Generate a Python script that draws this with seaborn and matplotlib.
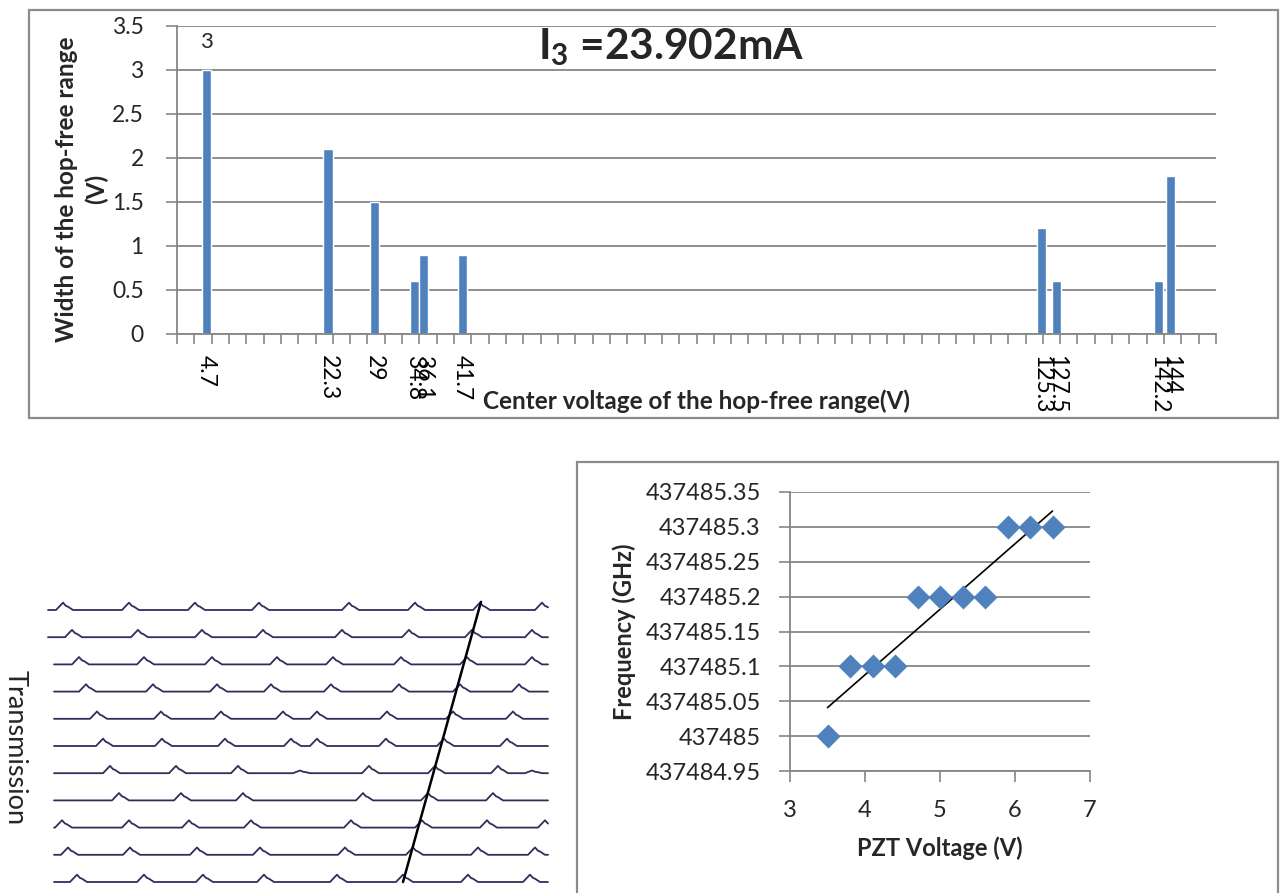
import numpy as np
import pandas as pd
import matplotlib
matplotlib.use("Agg")
import matplotlib.pyplot as plt
import seaborn as sns
from matplotlib.patches import Rectangle

# ---------------- data ----------------
# top chart: hop-free ranges
centers = [4.7, 22.3, 29, 34.8, 36.1, 41.7, 125.3, 127.5, 142.2, 144]
widths = [3, 2.1, 1.5, 0.6, 0.9, 0.9, 1.2, 0.6, 0.6, 1.8]
center_labels = ["4.7", "22.3", "29", "34.8", "36.1", "41.7", "125.3", "127.5", "142.2", "144"]
width_ticks = [0, 0.5, 1, 1.5, 2, 2.5, 3, 3.5]
width_tick_labels = ["0", "0.5", "1", "1.5", "2", "2.5", "3", "3.5"]

# bottom-right: frequency vs PZT voltage
pzt_voltage = [3.5, 3.8, 4.1, 4.4, 4.7, 5.0, 5.3, 5.6, 5.9, 6.2, 6.5]
frequency = [437485.00, 437485.10, 437485.10, 437485.10, 437485.20, 437485.20,
             437485.20, 437485.20, 437485.30, 437485.30, 437485.30]
pzt_ticks = [3, 4, 5, 6, 7]
freq_ticks = [437484.95, 437485.00, 437485.05, 437485.10, 437485.15,
              437485.20, 437485.25, 437485.30, 437485.35]
freq_tick_labels = ["437484.95", "437485", "437485.05", "437485.1", "437485.15",
                    "437485.2", "437485.25", "437485.3", "437485.35"]

# bottom-left: transmission scans (peak positions along the scan, per sweep)
scan_peaks = [
    [63, 129, 195, 259, 349, 415, 480, 542],
    [72, 138, 202, 263, 342, 409, 472, 532],
    [79, 144, 212, 277, 333, 401, 467, 532],
    [86, 153, 217, 271, 331, 399, 460, 519],
    [97, 161, 221, 283, 317, 387, 453, 513],
    [103, 162, 225, 291, 317, 386, 444, 507],
    [110, 176, 238, 369, 435, 498],
    [119, 181, 243, 363, 428, 493],
    [62, 129, 189, 251, 351, 422, 487, 545],
    [68, 130, 197, 260, 345, 413, 478, 535],
    [77, 144, 203, 264, 337, 403, 468, 530],
]
scan_small_peaks = [[], [], [], [], [], [], [300, 532], [], [], [], []]
scan_start = [48, 48, 54, 54, 54, 54, 54, 54, 54, 54, 54]
scan_end = [548] * 11
hop_line_x = [403, 481]
hop_line_scan = [10, -0.3]

# ---------------- style ----------------
sns.set_theme(style="white")
plt.rcParams["font.family"] = ["Lato", "DejaVu Sans"]
plt.rcParams["mathtext.fontset"] = "custom"
plt.rcParams["mathtext.rm"] = "Lato"
plt.rcParams["mathtext.bf"] = "Lato:bold"
plt.rcParams["mathtext.it"] = "Lato:italic"

W, H = 1280, 893
BLUE = "#4F81BD"
GRID = "#868686"
FRAME = "#8c8c8c"


def px_rect(l, t, r, b):
    return [l / W, 1 - b / H, (r - l) / W, (b - t) / H]


fig = plt.figure(figsize=(W / 100, H / 100), dpi=100)
fig.patch.set_facecolor("white")

# frames
fig.patches.append(Rectangle((29 / W, 1 - 418 / H), (1278 - 29) / W, (418 - 10) / H,
                             transform=fig.transFigure, fill=False, edgecolor=FRAME, lw=1.6))
fig.patches.append(Rectangle((577 / W, -0.05), (1278 - 577) / W, 1 - 462 / H + 0.05,
                             transform=fig.transFigure, fill=False, edgecolor=FRAME, lw=1.6))

# ---------------- top chart ----------------
ax1 = fig.add_axes(px_rect(177, 26, 1216, 334))
df_top = pd.DataFrame({"center": centers, "width": widths})
sns.barplot(data=df_top, x="center", y="width", native_scale=True, width=1.0,
            color=BLUE, saturation=1, ax=ax1, errorbar=None)
ax1.set_xlim(0.5, 150.5)
ax1.set_ylim(0, 3.5)
ax1.set_yticks(width_ticks, labels=width_tick_labels)
ax1.set_xticks(centers, labels=center_labels, rotation=270)
ax1.set_xticks(np.arange(0.5, 151, 2.5), minor=True)
ax1.tick_params(axis="x", which="major", length=0, pad=15, labelsize=16.5, colors="black")
ax1.tick_params(axis="x", which="minor", length=7, width=1.2, color=GRID, bottom=True)
ax1.tick_params(axis="y", which="major", length=8, width=1.2, color=GRID, left=True,
                pad=16, labelsize=16.5)
ax1.grid(axis="y", color=GRID, lw=1.3)
ax1.grid(axis="x", visible=False)
ax1.set_axisbelow(True)
for s in ["top", "right"]:
    ax1.spines[s].set_visible(False)
for s in ["left", "bottom"]:
    ax1.spines[s].set_color(GRID)
    ax1.spines[s].set_linewidth(1.3)
ax1.set_ylabel("Width of the hop-free range\n(V)", fontsize=17.5, fontweight="bold",
               linespacing=1.35)
ax1.yaxis.set_label_coords(-0.066, 0.47)
ax1.set_xlabel("Center voltage of the hop-free range(V)", fontsize=17.5, fontweight="bold")
ax1.xaxis.set_label_coords(0.5, -0.18)
first_label = ["%g" % widths[0]] + [""] * (len(widths) - 1)
ax1.bar_label(ax1.containers[0], labels=first_label, padding=13, fontsize=16)
fig.text(671 / W, 1 - 59 / H, r"I$_{\mathbf{3}}$ =23.902mA", fontsize=30.5,
         fontweight="bold", ha="center", va="baseline")

# ---------------- bottom-left: transmission traces ----------------
ax2 = fig.add_axes(px_rect(42, 588, 552, 893))
ax2.set_facecolor("#fbfbf5")
rows = []
shape_x = np.array([-7.0, 0.0, 3.0, 5.0, 10.0])
shape_y = np.array([0.0, 1.0, 0.55, 0.45, 0.0])
for i, peaks in enumerate(scan_peaks):
    xs = np.arange(scan_start[i], scan_end[i] + 0.5, 0.5)
    ys = np.zeros_like(xs)
    for p in peaks:
        ys = np.maximum(ys, 0.27 * np.interp(xs - p, shape_x, shape_y, left=0, right=0))
    for p in scan_small_peaks[i]:
        ys = np.maximum(ys, 0.1 * np.interp(xs - p, shape_x, shape_y, left=0, right=0))
    rows.append(pd.DataFrame({"x": xs, "y": ys - i, "scan": i}))
df_tr = pd.concat(rows, ignore_index=True)
sns.lineplot(data=df_tr, x="x", y="y", units="scan", estimator=None, sort=False,
             color="#2e2e5c", lw=1.3, ax=ax2, legend=False)
ax2.plot(hop_line_x, [-v for v in hop_line_scan], color="black", lw=1.8)
ax2.set_xlim(42, 552)
top_r = (588 - 610) / 27.2
bot_r = (893 - 610) / 27.2
ax2.set_ylim(-bot_r, -top_r)
ax2.set_axis_off()
fig.text(15 / W, 1 - 748 / H, "Transmission", rotation=270, fontsize=19.5,
         ha="center", va="center")

# ---------------- bottom-right: frequency vs PZT ----------------
ax3 = fig.add_axes(px_rect(790, 492, 1090, 771))
df_f = pd.DataFrame({"pzt": pzt_voltage, "freq": frequency})
sns.regplot(data=df_f, x="pzt", y="freq", scatter=False, ci=None, ax=ax3,
            line_kws={"color": "black", "lw": 1.2})
sns.scatterplot(data=df_f, x="pzt", y="freq", marker="D", s=150, color=BLUE,
                edgecolor=BLUE, linewidth=0, ax=ax3, zorder=3)
ax3.set_xlim(3, 7)
ax3.set_ylim(437484.95, 437485.35)
ax3.set_xticks(pzt_ticks, labels=[str(t) for t in pzt_ticks])
ax3.set_yticks(freq_ticks, labels=freq_tick_labels)
ax3.tick_params(axis="both", length=8, width=1.2, color=GRID, pad=13, labelsize=17,
                left=True, bottom=True)
ax3.grid(axis="y", color=GRID, lw=1.3)
ax3.grid(axis="x", visible=False)
ax3.set_axisbelow(True)
for s in ["top", "right"]:
    ax3.spines[s].set_visible(False)
for s in ["left", "bottom"]:
    ax3.spines[s].set_color(GRID)
    ax3.spines[s].set_linewidth(1.3)
ax3.set_ylabel("Frequency (GHz)", fontsize=17, fontweight="bold")
ax3.yaxis.set_label_coords(-0.515, 0.5)
ax3.set_xlabel("PZT Voltage (V)", fontsize=17, fontweight="bold")
ax3.xaxis.set_label_coords(0.5, -0.235)

fig.savefig("out.png", dpi=100, facecolor="white")
